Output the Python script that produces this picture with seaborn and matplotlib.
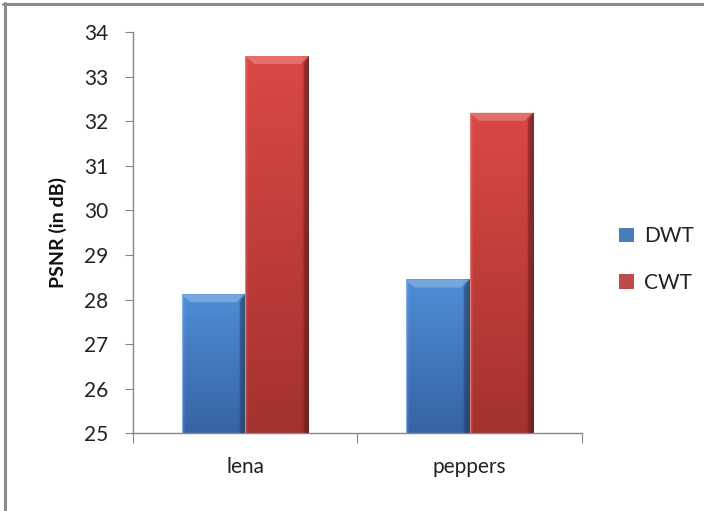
import numpy as np
import pandas as pd
import matplotlib
matplotlib.use("Agg")
import matplotlib.pyplot as plt
import seaborn as sns
from matplotlib.patches import Polygon, Patch
from matplotlib.lines import Line2D
from matplotlib.colors import to_rgb

# PSNR results per test image
images = ["lena", "peppers"]
methods = ["DWT", "CWT"]
dwt_psnr = [28.12, 28.45]
cwt_psnr = [33.46, 32.19]
y_ticks = [25, 26, 27, 28, 29, 30, 31, 32, 33, 34]

df = pd.DataFrame({
    "image": images * 2,
    "method": ["DWT"] * len(images) + ["CWT"] * len(images),
    "psnr": dwt_psnr + cwt_psnr,
})

sns.set_theme(style="white")
plt.rcParams["font.family"] = ["Lato", "DejaVu Sans"]

W, H = 704, 511
fig = plt.figure(figsize=(W / 100, H / 100), dpi=100)
ax = fig.add_axes([133.3 / W, (H - 433.3) / H, 448.4 / W, 401.3 / H])

base = {"DWT": "#4A7EBB", "CWT": "#BE4B48"}
# top / bottom shades for the glossy fill
shades = {
    "DWT": ("#4F8ED6", "#3763A4"),
    "CWT": ("#DB4844", "#A3322F"),
}

sns.barplot(data=df, x="image", y="psnr", hue="method", order=images,
            hue_order=methods, palette=base, width=0.57, saturation=1,
            legend=False, ax=ax, edgecolor="none")

ymin, ymax = y_ticks[0], y_ticks[-1]
ax.set_ylim(ymin, ymax)
ax.set_xlim(-0.5, len(images) - 0.5)

# px -> data scale factors for bevel sizes
px_x = (len(images)) / 448.4
px_y = (ymax - ymin) / 401.3

for method, container in zip(methods, ax.containers):
    top_c, bot_c = (np.array(to_rgb(c)) for c in shades[method])
    for bar in container:
        x0 = bar.get_x()
        w = bar.get_width()
        h = bar.get_height()
        x1 = x0 + w
        ny, nx = 200, 60
        t = np.linspace(0, 1, ny)[:, None, None]
        img = top_c * (1 - t) + bot_c * t
        img = np.repeat(img, nx, axis=1)
        # horizontal shading: darker toward the right edge
        s = np.linspace(0, 1, nx)[None, :, None]
        dark = np.clip((s - 0.88) / 0.12, 0, 1) * 0.35
        light = np.clip((0.05 - s) / 0.05, 0, 1) * 0.12
        img = img * (1 - dark) + (1 - img) * light
        im = ax.imshow(img, extent=[x0, x1, ymin, h], aspect="auto",
                       origin="upper", zorder=2, interpolation="bilinear")
        im.set_clip_path(bar)
        bar.set_facecolor("none")
        # bevelled top edge
        bx, by = 9 * px_x, 8 * px_y
        top_light = np.clip(top_c + (1 - top_c) * 0.3, 0, 1)
        ax.add_patch(Polygon([[x0, h], [x1, h], [x1 - bx, h - by], [x0 + bx, h - by]],
                             closed=True, facecolor=top_light, edgecolor="none",
                             alpha=0.75, zorder=3))
        # darker right bevel
        ax.add_patch(Polygon([[x1, h], [x1, ymin], [x1 - 0.6 * bx, ymin],
                              [x1 - 0.6 * bx, h - by]],
                             closed=True, facecolor=bot_c * 0.7, edgecolor="none",
                             alpha=0.45, zorder=3))
        ax.plot([x0, x0], [ymin, h], color=top_light, lw=0.8, zorder=3)

ax.set_ylim(ymin, ymax)
ax.set_xlim(-0.5, len(images) - 0.5)

axis_grey = "#868686"
for side in ["top", "right"]:
    ax.spines[side].set_visible(False)
for side in ["left", "bottom"]:
    ax.spines[side].set_color(axis_grey)
    ax.spines[side].set_linewidth(1.0)

text_color = "#222222"
ax.set_yticks(y_ticks)
ax.set_yticklabels([str(v) for v in y_ticks])
ax.tick_params(axis="y", which="major", left=True, direction="out", length=6,
               width=0.8, color=axis_grey, pad=12, labelsize=15, labelcolor=text_color)

ax.set_xticks([-0.5, 0.5, 1.5])
ax.set_xticklabels(["", "", ""])
ax.set_xticks(range(len(images)), labels=images, minor=True)
ax.tick_params(axis="x", which="major", bottom=True, direction="out", length=7,
               width=0.8, color=axis_grey)
ax.tick_params(axis="x", which="minor", bottom=True, length=0, pad=17,
               labelsize=15, labelcolor=text_color)

ax.set_xlabel("")
ax.set_ylabel("PSNR (in dB)", fontsize=14, fontweight="bold", color="#111111")
ax.yaxis.set_label_coords((67 - 133.3) / 448.4, 0.5)
ax.grid(False)

handles = [Patch(facecolor=base[m], edgecolor="none", label=m) for m in methods]
fig.legend(handles=handles, loc="center left", frameon=False,
           bbox_to_anchor=(619 / W, 1 - 259.5 / H), bbox_transform=fig.transFigure,
           borderpad=0, borderaxespad=0, handlelength=0.7, handleheight=0.7,
           handletextpad=0.5, labelspacing=1.25, fontsize=15, labelcolor=text_color)

# frame lines along the top and left edges of the figure
frame_grey = "#8C8C8C"
fig.add_artist(Line2D([3 / W, 1], [1 - 4 / H, 1 - 4 / H], color=frame_grey, lw=2.2,
                      transform=fig.transFigure))
fig.add_artist(Line2D([4.5 / W, 4.5 / W], [0, 1 - 3 / H], color=frame_grey, lw=2.2,
                      transform=fig.transFigure))

fig.savefig("out.png", dpi=100, facecolor="white")
